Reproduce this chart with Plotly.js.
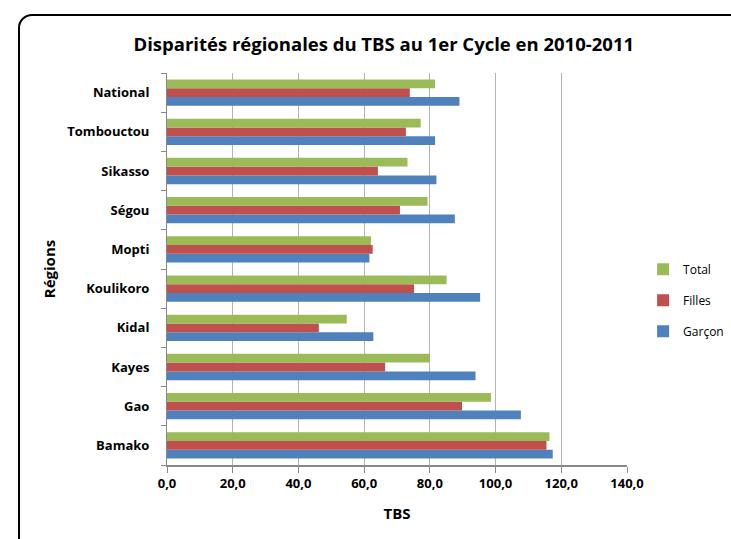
<!DOCTYPE html>
<html>
<head>
<meta charset="utf-8">
<script src="https://cdn.plot.ly/plotly-3.0.1.min.js"></script>
<style>
  html, body { margin: 0; padding: 0; background: #fff; overflow: hidden; }
  #frame { position: absolute; left: 18px; top: 14px; width: 740px; height: 560px;
           border: 2px solid #000; border-radius: 14px; box-sizing: border-box; }
  #chart { position: absolute; left: 0; top: 0; width: 731px; height: 539px; }
</style>
</head>
<body>
<div id="frame"></div>
<div id="chart"></div>
<script>
const regions = ["Bamako", "Gao", "Kayes", "Kidal", "Koulikoro", "Mopti", "Ségou", "Sikasso", "Tombouctou", "National"];
const garcon = [117.4, 107.7, 93.9, 62.8, 95.3, 61.6, 87.6, 82.0, 81.6, 89.0];
const filles = [115.5, 89.8, 66.4, 46.2, 75.2, 62.6, 70.9, 64.2, 72.7, 73.9];
const total  = [116.4, 98.6, 80.0, 54.7, 85.1, 62.1, 79.3, 73.2, 77.2, 81.6];
const xTicks = [0, 20, 40, 60, 80, 100, 120, 140];

const font = "'Open Sans', 'Noto Sans', sans-serif";
function bar(name, vals, color, group, rank) {
  return { type: "bar", orientation: "h", name: name, x: vals, y: regions,
           marker: { color: color }, legendgroup: group, legendrank: rank, hoverinfo: "x+name" };
}
const data = [
  bar("Garçon", garcon, "#4F81BD", "g", 3),
  bar("Filles", filles, "#C0504D", "f", 2),
  bar("Total", total, "#9BBB59", "t", 1)
];
const layout = {
  width: 731, height: 539,
  paper_bgcolor: "rgba(0,0,0,0)", plot_bgcolor: "rgba(0,0,0,0)",
  margin: { l: 167, r: 104, t: 73, b: 74, autoexpand: false },
  separators: ", ",
  barmode: "group", bargap: 0.33, bargroupgap: 0,
  title: { text: "<b>Disparités régionales du TBS au 1er Cycle en 2010-2011</b>",
           font: { family: font, size: 18.5, color: "#000" }, x: 0.525, xanchor: "center", y: 0.917, yanchor: "middle" },
  xaxis: {
    range: [0, 140], tickvals: xTicks, tickformat: ".1f",
    showgrid: true, gridcolor: "#b3b3b3", gridwidth: 1,
    showline: true, linecolor: "#888", linewidth: 1.5,
    ticks: "outside", ticklen: 6, tickcolor: "#888",
    tickfont: { family: font, size: 13, color: "#000", weight: "bold" },
    zeroline: false,
    title: { text: "<b>TBS</b>", font: { family: font, size: 15, color: "#000" }, standoff: 17 }
  },
  yaxis: {
    type: "category", showline: true, linecolor: "#888", linewidth: 1.5,
    ticks: "outside", ticklen: 5, tickcolor: "#888", tickson: "boundaries",
    showgrid: false,
    tickfont: { family: font, size: 13, color: "#000", weight: "bold" },
    ticksuffix: "    ",
    title: { text: "<b>Régions</b>", font: { family: font, size: 15, color: "#000" }, standoff: 8 }
  },
  showlegend: true,
  legend: { x: 1.035, y: 0.42, xanchor: "left", yanchor: "middle", traceorder: "grouped",
            tracegroupgap: 12, itemwidth: 30,
            font: { family: font, size: 12, color: "#000" }, bgcolor: "rgba(0,0,0,0)" }
};
Plotly.newPlot("chart", data, layout, { displayModeBar: false, staticPlot: true });
</script>
</body>
</html>
